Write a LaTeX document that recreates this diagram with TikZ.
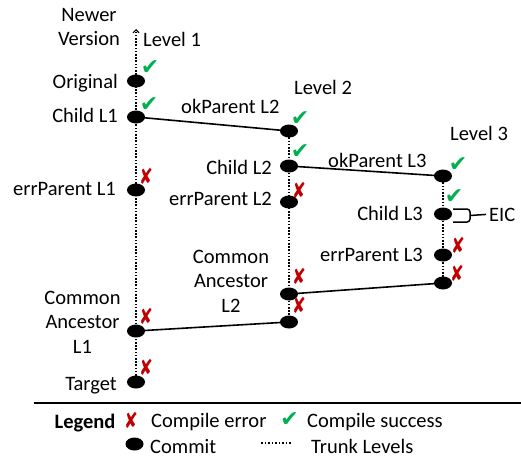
\documentclass[tikz,border=0pt]{standalone}
\usepackage{fontspec}
\setmainfont{Carlito}
\newfontfamily\symfont{DejaVu Sans}
\usetikzlibrary{arrows.meta,shapes.geometric}
\definecolor{okgreen}{RGB}{0,176,80}
\definecolor{errred}{RGB}{192,0,0}
\begin{document}
\begin{tikzpicture}[x=1pt,y=-1pt,
  font=\fontsize{20.5}{24.5}\selectfont,
  commit/.style={ellipse,fill=black,draw=none,minimum width=18pt,minimum height=13pt,inner sep=0pt},
  okmark/.style={text=okgreen,inner sep=0pt,font=\symfont\fontsize{22}{22}\selectfont},
  errmark/.style={text=errred,inner sep=0pt,font=\symfont\fontsize{22}{22}\selectfont,xscale=0.75},
  lbl/.style={inner sep=0pt},
  trunk/.style={line width=1.6pt,dash pattern=on 1.6pt off 1.6pt},
  link/.style={line width=1.6pt}]
\useasboundingbox (0,0) rectangle (521,460);

% Level 1 commits
\node[commit] (orig) at (136,81) {};
\node[commit] (c1) at (136,117) {};
\node[commit] (e1) at (136,190) {};
\node[commit] (ca1) at (136,331) {};
\node[commit] (tgt) at (136,382) {};
\coordinate (top1) at (136,29);
% Level 2 commits
\node[commit] (ok2) at (289,131) {};
\node[commit] (c2) at (289,166) {};
\node[commit] (e2) at (289,202) {};
\node[commit] (ca2) at (289,294) {};
\node[commit] (b2) at (289,322) {};
% Level 3 commits
\node[commit] (ok3) at (443,176) {};
\node[commit] (c3) at (443,214) {};
\node[commit] (e3) at (443,255) {};
\node[commit] (b3) at (443,283) {};

% trunk levels
\draw[trunk,-{Straight Barb[length=3pt,width=6pt,line width=1.2pt]}] (tgt.center) -- (top1);
\draw[trunk] (ok2.center) -- (b2.center);
\draw[trunk] (ok3.center) -- (b3.center);

% links
\draw[link] (c1.center) -- (ok2.center);
\draw[link] (c2.center) -- (ok3.center);
\draw[link] (ca2.center) -- (b3.center);
\draw[link] (ca1.center) -- (b2.center);

% marks
\node[okmark] (m1) at (150,68) {✔};
\node[okmark] (m2) at (149,105) {✔};
\node[errmark] (m3) at (146,176) {✘};
\node[errmark] (m4) at (146,316) {✘};
\node[errmark] (m5) at (146,367) {✘};
\node[okmark] (m6) at (300,119) {✔};
\node[okmark] (m7) at (300,152) {✔};
\node[errmark] (m8) at (299,190) {✘};
\node[errmark] (m9) at (299,276) {✘};
\node[errmark] (m10) at (299,305) {✘};
\node[okmark] (m11) at (458,165) {✔};
\node[okmark] (m12) at (454,197) {✔};
\node[errmark] (m13) at (458,245) {✘};
\node[errmark] (m14) at (457,273) {✘};

% labels
\node[lbl,align=center] (newer) at (89,27) {Newer\\Version};
\node[lbl,anchor=base west] (lv1) at (143,46) {Level 1};
\node[lbl,anchor=base west] (lv2) at (294,94) {Level 2};
\node[lbl,anchor=base west] (lv3) at (450,140) {Level 3};
\node[lbl,anchor=base east] (lorig) at (118,88) {Original};
\node[lbl,anchor=base east] (lc1) at (118,122) {Child L1};
\node[lbl,anchor=base east] (le1) at (116,195) {errParent L1};
\node[lbl,align=center] (lca1) at (82.5,322) {Common\\Ancestor\\L1};
\node[lbl,anchor=base east] (ltgt) at (117,390) {Target};
\node[lbl,anchor=base west] (lok2) at (181,113) {okParent L2};
\node[lbl,anchor=base east] (lc2) at (272,174) {Child L2};
\node[lbl,anchor=base east] (le2) at (272,205) {errParent L2};
\node[lbl,align=center] (lca2) at (231,281) {Common\\Ancestor\\L2};
\node[lbl,anchor=base west] (lok3) at (328,167) {okParent L3};
\node[lbl,anchor=base east] (lc3) at (423,220) {Child L3};
\node[lbl,anchor=base east] (le3) at (423,261) {errParent L3};

% EIC bracket
\coordinate (bt) at (453,209);
\coordinate (bb) at (453,222);
\coordinate (bm) at (470,215.5);
\node[lbl,anchor=base west] (eic) at (489,221) {EIC};
\draw[line width=1.5pt,rounded corners=3pt] (bt) -- (470,209) -- (470,222) -- (bb);
\draw[line width=1.5pt] (bm) -- ([xshift=-3pt]eic.west);

% legend
\coordinate (ls) at (34,403);
\coordinate (le) at (521,403);
\draw[line width=2.5pt] (ls) -- (le);
\node[lbl,anchor=base,font=\fontsize{20.5}{24}\selectfont\bfseries] (leg) at (85,428) {Legend};
\node[errmark] (lgx) at (131,420) {✘};
\node[lbl,anchor=base west] (lgxt) at (151,427) {Compile error};
\node[okmark] (lgc) at (289.5,420) {✔};
\node[lbl,anchor=base west] (lgct) at (307,427) {Compile success};
\node[commit] (lgd) at (134.5,444) {};
\node[lbl,anchor=base west] (lgdt) at (150,453) {Commit};
\coordinate (lts) at (261,443);
\coordinate (lte) at (292,443);
\draw[trunk,line width=1.5pt,dash pattern=on 1.5pt off 2pt] (lts) -- (lte);
\node[lbl,anchor=base west] (lgtt) at (311,453) {Trunk Levels};
\end{tikzpicture}
\end{document}
